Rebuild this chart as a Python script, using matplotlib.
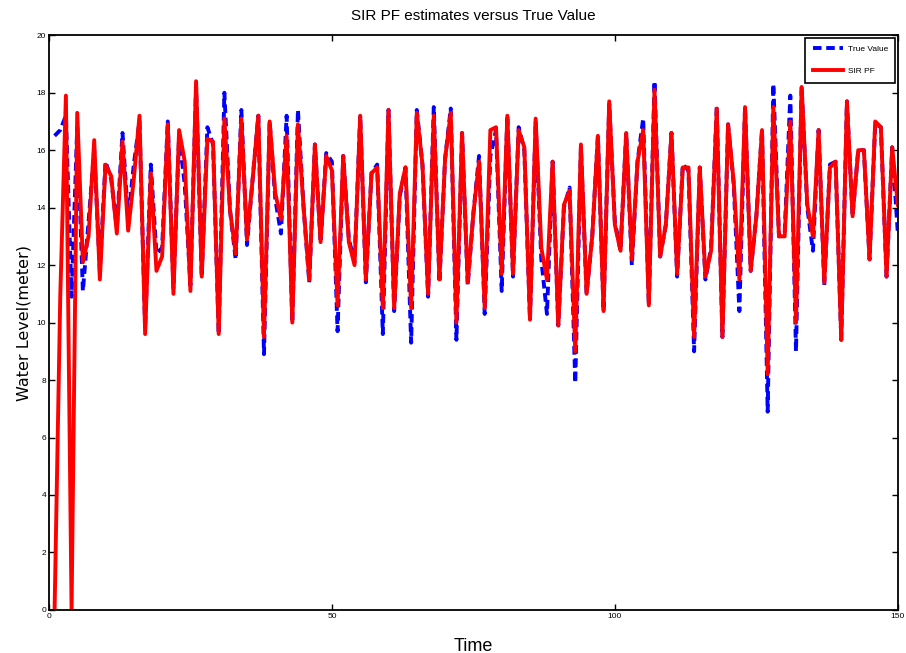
import numpy as np
import matplotlib.pyplot as plt

# time steps 1..150
time = np.arange(1, 151)

# particle filter estimate (SIR PF)
sir_pf = [
    0.0, 10.9, 17.9, 0.0, 17.3, 12.1, 13.0, 16.35, 11.5, 15.5,
    15.1, 13.1, 16.3, 13.2, 15.0, 17.2, 9.6, 15.2, 11.8, 12.3,
    16.9, 11.0, 16.7, 15.6, 11.1, 18.4, 11.6, 16.4, 16.3, 9.6,
    17.1, 13.9, 12.4, 17.1, 12.9, 15.0, 17.2, 9.5, 17.0, 14.5,
    13.6, 16.5, 10.0, 16.9, 14.0, 11.5, 16.2, 12.8, 15.8, 15.3,
    10.6, 15.8, 12.8, 12.0, 17.2, 11.5, 15.2, 15.4, 10.5, 17.4,
    10.5, 14.5, 15.4, 10.5, 17.3, 15.5, 11.0, 17.2, 11.5, 15.7,
    17.3, 10.0, 16.6, 11.4, 13.8, 15.6, 10.5, 16.7, 16.8, 11.7,
    17.2, 11.7, 16.7, 16.1, 10.1, 17.1, 12.6, 11.5, 15.6, 9.9,
    14.1, 14.6, 9.0, 16.2, 11.0, 13.0, 16.5, 10.4, 17.7, 13.4,
    12.5, 16.6, 12.2, 15.6, 16.7, 10.6, 18.1, 12.3, 13.4, 16.6,
    11.7, 15.4, 15.4, 9.5, 15.4, 11.6, 12.5, 17.45, 9.5, 16.9,
    14.9, 11.5, 17.5, 11.8, 13.7, 16.7, 8.2, 17.5, 13.0, 13.0,
    17.0, 10.0, 18.2, 14.1, 13.0, 16.7, 11.4, 15.4, 15.6, 9.4,
    17.7, 13.7, 16.0, 16.0, 12.2, 17.0, 16.8, 11.6, 16.1, 14.1,
]

# true water level
true_value = [
    16.5, 16.7, 17.2, 10.9, 16.8, 11.1, 13.5, 16.0, 11.8, 15.6,
    15.0, 13.3, 16.6, 13.6, 15.5, 17.0, 9.8, 15.5, 12.4, 12.6,
    17.0, 11.2, 16.5, 14.8, 11.3, 18.2, 11.6, 16.8, 16.2, 9.6,
    18.0, 13.9, 12.2, 17.4, 12.7, 15.0, 17.2, 8.9, 17.0, 14.3,
    13.1, 17.2, 10.0, 17.4, 14.0, 11.4, 16.2, 12.8, 15.9, 15.6,
    9.7, 15.8, 12.9, 12.1, 17.2, 11.4, 15.2, 15.5, 9.6, 17.4,
    10.4, 14.4, 15.4, 9.3, 17.4, 15.5, 10.9, 17.5, 11.4, 15.7,
    17.45, 9.4, 16.6, 11.3, 13.8, 15.8, 10.3, 15.8, 16.7, 11.1,
    17.2, 11.6, 16.8, 16.0, 10.1, 17.0, 12.2, 10.3, 15.6, 9.9,
    14.0, 14.7, 7.9, 16.1, 11.0, 13.0, 16.5, 10.4, 17.6, 13.5,
    12.5, 16.6, 12.0, 15.6, 17.1, 10.6, 18.4, 12.3, 13.4, 16.6,
    11.6, 15.5, 15.3, 9.0, 15.4, 11.5, 12.6, 17.5, 9.5, 16.9,
    14.8, 10.4, 17.5, 11.8, 13.7, 16.7, 6.9, 18.3, 13.0, 13.1,
    17.9, 9.0, 18.2, 14.0, 12.5, 16.7, 11.3, 15.5, 15.6, 9.4,
    17.7, 13.7, 16.0, 16.0, 12.2, 16.9, 16.8, 11.6, 16.1, 13.1,
]

x_ticks = [0, 50, 100, 150]
y_ticks = list(range(0, 21, 2))

font = 'Liberation Sans'

fig = plt.figure(figsize=(9.06, 6.53), dpi=100)
ax = fig.add_axes([0.054, 0.066, 0.937, 0.880])

ax.plot(time, true_value, color='#0000ff', linestyle='--', linewidth=2.8,
        dashes=(2.2, 1.2), label='True Value')
ax.plot(time, sir_pf, color='#ff0000', linestyle='-', linewidth=2.8,
        label='SIR PF')

ax.set_xlim(0, 150)
ax.set_ylim(0, 20)
ax.set_xticks(x_ticks)
ax.set_yticks(y_ticks)
ax.tick_params(direction='in', top=True, right=True, length=4, width=1,
               labelsize=6, pad=2)
for lbl in ax.get_xticklabels() + ax.get_yticklabels():
    lbl.set_family(font)
for sp in ax.spines.values():
    sp.set_linewidth(1.3)

ax.set_title('SIR PF estimates versus True Value', family=font,
             fontsize=11, pad=11)
ax.set_xlabel('Time', family=font, fontsize=13, labelpad=13)
ax.set_ylabel('Water Level(meter)', family='DejaVu Sans', fontsize=11.5,
              labelpad=4)

leg = ax.legend(loc='upper right', prop={'family': font, 'size': 6},
                fancybox=False, framealpha=1, edgecolor='black',
                handlelength=3.6, borderaxespad=0.3, borderpad=0.9,
                labelspacing=1.7, handletextpad=0.6)
leg.get_frame().set_linewidth(1.2)

fig.savefig('out.png', dpi=100)
